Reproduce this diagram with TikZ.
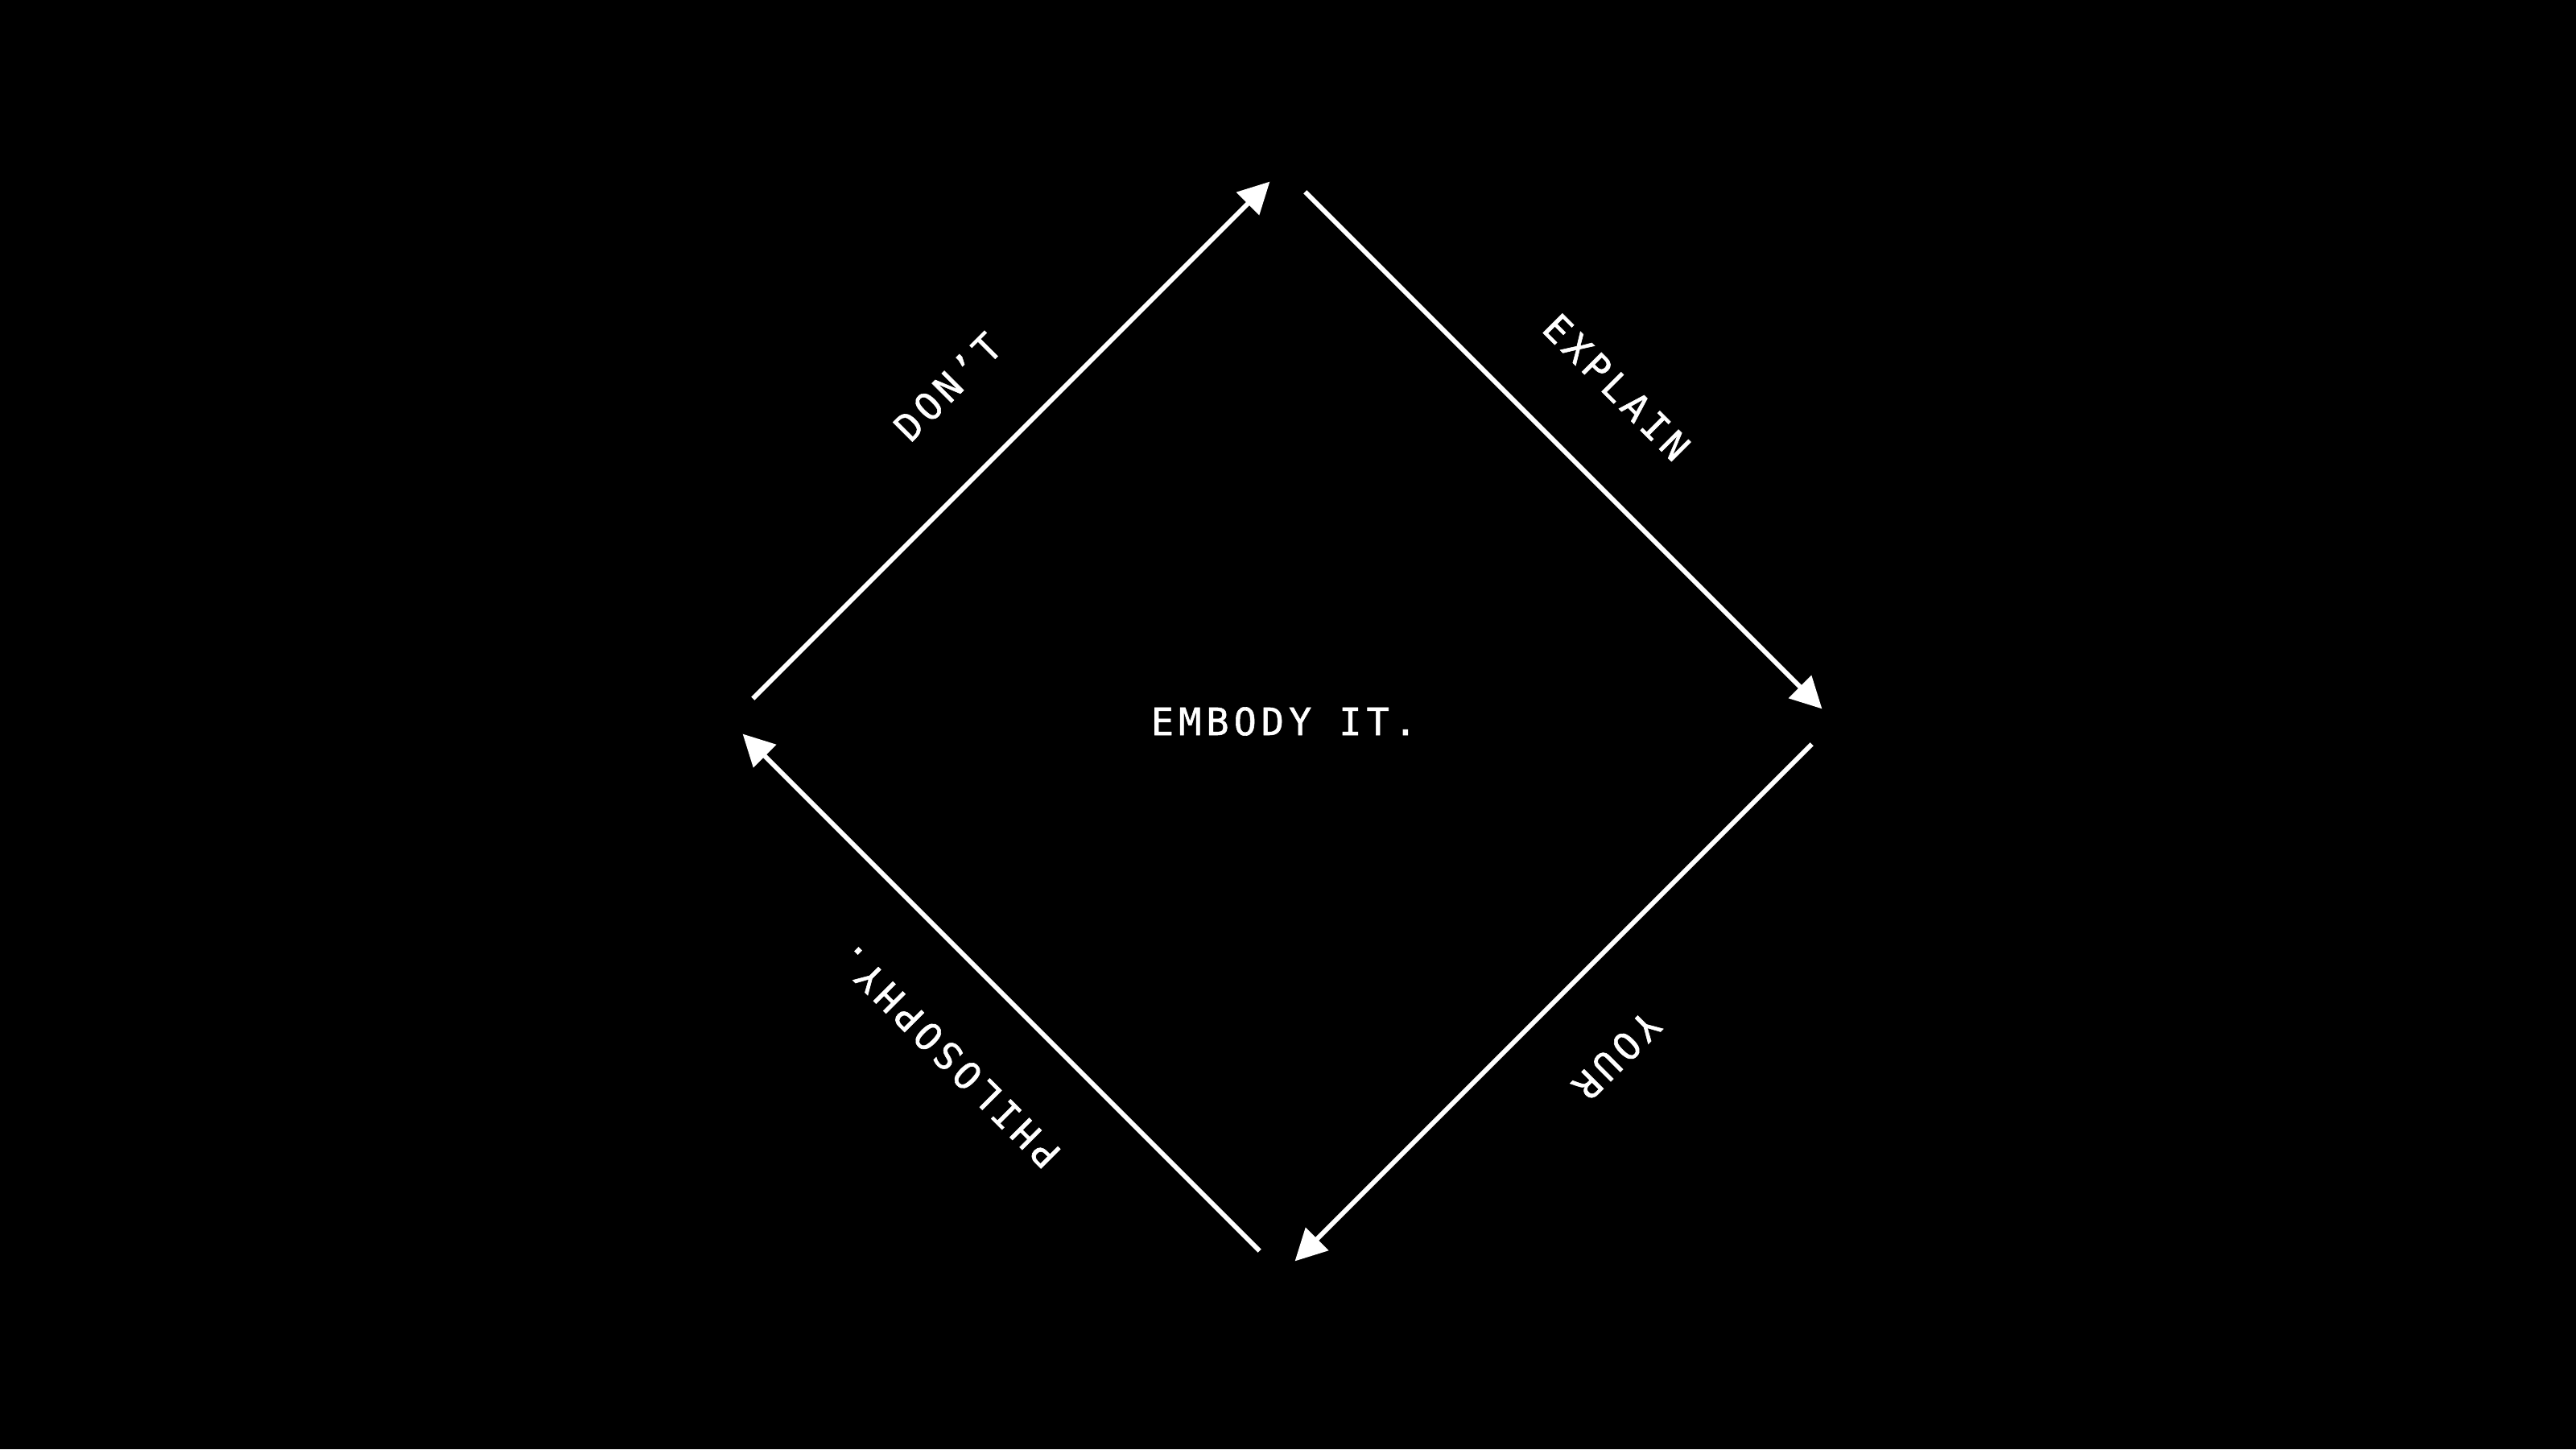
\documentclass[tikz,border=0pt]{standalone}
\usepackage{fontspec}
\newfontfamily\diagfont[LetterSpace=13, FakeBold=1.2]{DejaVu Sans Mono}
\usetikzlibrary{arrows.meta}

\begin{document}
\begin{tikzpicture}[
    conn/.style={white, line width=1.7pt, -{Triangle[length=3.9mm, width=3.9mm]},
      shorten <=0.4cm, shorten >=0.22cm},
    lbl/.style={midway, sloped, allow upside down, above=0.82cm, inner sep=0,
      text=white, font=\diagfont\fontsize{13.3}{16}\selectfont}
  ]
      \fill[black] (0,0) rectangle (32,18);
      \coordinate (T) at (15.93,15.90);
      \coordinate (R) at (22.79,9.04);
      \coordinate (B) at (15.93,2.18);
      \coordinate (L) at (9.07,9.04);
      \node[text=white, font=\diagfont\fontsize{13.3}{16}\selectfont] (mid) at (15.95,9.04) {EMBODY IT.};
      \draw[conn] (L)--(T) node[lbl] {DON’T};
      \draw[conn] (T)--(R) node[lbl] {EXPLAIN};
      \draw[conn] (R)--(B) node[lbl] {YOUR};
      \draw[conn] (B)--(L) node[lbl] {PHILOSOPHY.};
\end{tikzpicture}
\end{document}
